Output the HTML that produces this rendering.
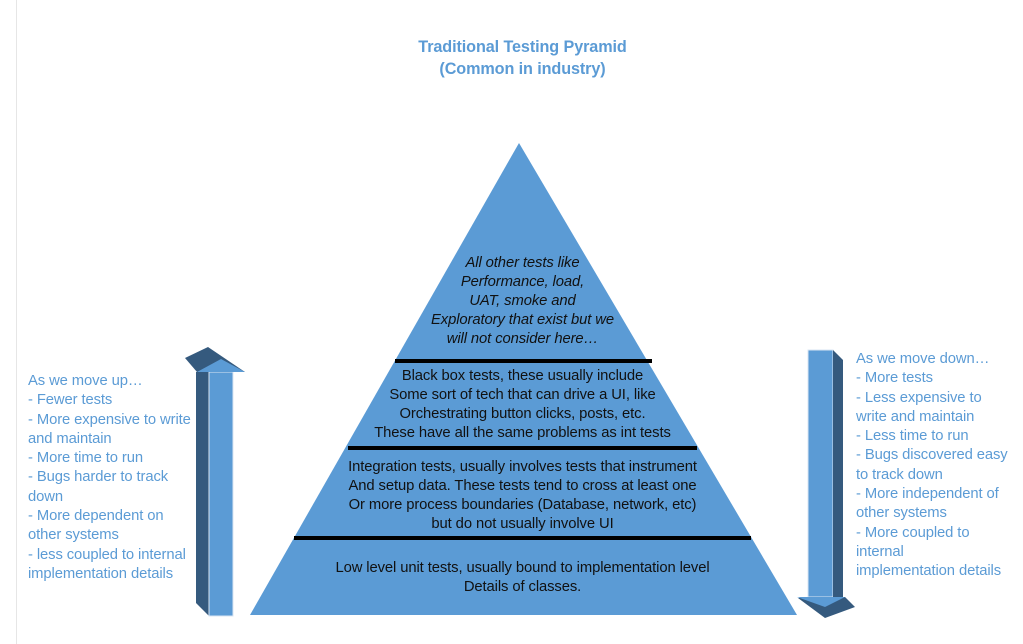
<!DOCTYPE html>
<html><head><style>
body{margin:0;width:1023px;height:644px;background:#fff;position:relative;overflow:hidden;font-family:"Liberation Sans",sans-serif}
.t{position:absolute;color:#5b9bd5;font-size:14.8px;line-height:19.3px;white-space:nowrap;letter-spacing:-0.1px}
.c{position:absolute;left:0;width:1045px;text-align:center;font-size:14.8px;line-height:19px;color:#111;white-space:nowrap;letter-spacing:-0.1px}
</style></head><body>
<div style="position:absolute;left:16px;top:0;width:1px;height:644px;background:#e6e6e6"></div>
<div class="t" style="left:0;width:1045px;text-align:center;top:36px;font-weight:bold;font-size:16.2px;line-height:22px">Traditional Testing Pyramid<br>(Common in industry)</div>
<svg width="1023" height="644" style="position:absolute;left:0;top:0">
<polygon points="519,143 250,615 797,615" fill="#5b9bd5"/>
<g stroke="#000" stroke-width="4">
<line x1="395" y1="361" x2="652" y2="361"/>
<line x1="348" y1="448" x2="697" y2="448"/>
<line x1="294" y1="538" x2="751" y2="538"/>
</g>
<polygon points="196,372 209,372 209,616 196,603" fill="#355a7e"/>
<rect x="209" y="372" width="24" height="244" fill="#5b9bd5" stroke="#d9e6f3" stroke-width="1"/>
<polygon points="185,358 208,347 245,372 197,372" fill="#355a7e"/>
<polygon points="197,372 221,359 245,372" fill="#5b9bd5"/>
<rect x="808" y="350" width="25" height="247" fill="#5b9bd5" stroke="#d9e6f3" stroke-width="1"/>
<polygon points="833,350 843,360 843,597 833,597" fill="#355a7e"/>
<polygon points="798,598 825,618 855,607 845,597" fill="#355a7e"/>
<polygon points="797,597 845,597 825,607" fill="#5b9bd5"/>
</svg>
<div class="c" style="top:254px;font-style:italic">All other tests like<br>Performance, load,<br>UAT, smoke and<br>Exploratory that exist but we<br>will not consider here…</div>
<div class="c" style="top:367px">Black box tests, these usually include<br>Some sort of tech that can drive a UI, like<br>Orchestrating button clicks, posts, etc.<br>These have all the same problems as int tests</div>
<div class="c" style="top:458px">Integration tests, usually involves tests that instrument<br>And setup data. These tests tend to cross at least one<br>Or more process boundaries (Database, network, etc)<br>but do not usually involve UI</div>
<div class="c" style="top:559px">Low level unit tests, usually bound to implementation level<br>Details of classes.</div>
<div class="t" style="left:28px;top:372px">As we move up…<br>- Fewer tests<br>- More expensive to write<br>and maintain<br>- More time to run<br>- Bugs harder to track<br>down<br>- More dependent on<br>other systems<br>- less coupled to internal<br>implementation details</div>
<div class="t" style="left:856px;top:350px">As we move down…<br>- More tests<br>- Less expensive to<br>write and maintain<br>- Less time to run<br>- Bugs discovered easy<br>to track down<br>- More independent of<br>other systems<br>- More coupled to<br>internal<br>implementation details</div>
</body></html>
